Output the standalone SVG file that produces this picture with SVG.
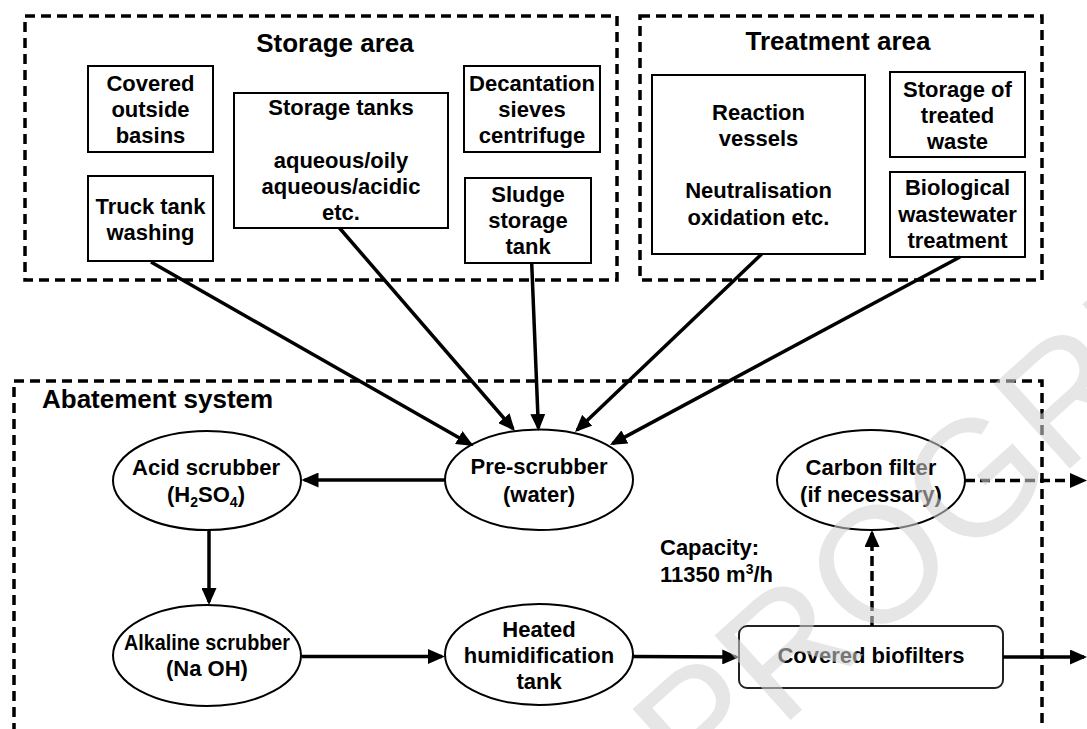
<svg xmlns="http://www.w3.org/2000/svg" width="1087" height="729" viewBox="0 0 1087 729">
  <defs>
    <!-- filled arrowhead; tip sits 3px past the line end -->
    <marker id="arrow" viewBox="0 0 17 15" refX="14" refY="7.5" markerWidth="17" markerHeight="15" markerUnits="userSpaceOnUse" orient="auto">
      <path d="M0,0 L17,7.5 L0,15 z" fill="#000"/>
    </marker>
  </defs>
  <style>
    .t{font-family:"Liberation Sans",Arial,Helvetica,sans-serif;font-weight:bold;font-size:22px;fill:#000;text-anchor:middle}
    .title{font-size:26px}
    .start{text-anchor:start}
    .area{fill:none;stroke:#000;stroke-width:3.5;stroke-dasharray:10 6}
    .box{fill:#fff;stroke:#000;stroke-width:2}
    .oval{fill:#fff;stroke:#000;stroke-width:2}
    .edge{fill:none;stroke:#000;stroke-width:3.5;marker-end:url(#arrow)}
    .dash{stroke-dasharray:10 5}
    .wm{font-family:"Liberation Sans",Arial,Helvetica,sans-serif;font-size:165px;fill:#d3d3d3;opacity:0.56}
  </style>

  <rect width="1087" height="729" fill="#fff"/>

  <!-- area frames -->
  <g id="storage-area">
    <rect class="area" x="25" y="16" width="592" height="264"/>
    <text class="t title" x="335" y="52">Storage area</text>
  </g>
  <g id="treatment-area">
    <rect class="area" x="640" y="16" width="402" height="264"/>
    <text class="t title" x="838" y="50">Treatment area</text>
  </g>
  <g id="abatement-system">
    <rect class="area" x="14" y="381" width="1028" height="380"/>
    <text class="t title start" x="42" y="408">Abatement system</text>
  </g>

  <!-- storage area units -->
  <g id="covered-basins">
    <rect class="box" x="88" y="66" width="125" height="86"/>
    <text class="t" x="150.5" y="91">Covered</text>
    <text class="t" x="150.5" y="117">outside</text>
    <text class="t" x="150.5" y="143">basins</text>
  </g>
  <g id="truck-washing">
    <rect class="box" x="88" y="176" width="125" height="85"/>
    <text class="t" x="150.5" y="214">Truck tank</text>
    <text class="t" x="150.5" y="240">washing</text>
  </g>
  <g id="storage-tanks">
    <rect class="box" x="234" y="93" width="214" height="135"/>
    <text class="t" x="341" y="115">Storage tanks</text>
    <text class="t" x="341" y="168">aqueous/oily</text>
    <text class="t" x="341" y="194">aqueous/acidic</text>
    <text class="t" x="341" y="220">etc.</text>
  </g>
  <g id="decantation">
    <rect class="box" x="464" y="66" width="136" height="86"/>
    <text class="t" x="532" y="91">Decantation</text>
    <text class="t" x="532" y="117">sieves</text>
    <text class="t" x="532" y="143">centrifuge</text>
  </g>
  <g id="sludge-tank">
    <rect class="box" x="465" y="178" width="126" height="85"/>
    <text class="t" x="528" y="202">Sludge</text>
    <text class="t" x="528" y="228">storage</text>
    <text class="t" x="528" y="254">tank</text>
  </g>

  <!-- treatment area units -->
  <g id="reaction-vessels">
    <rect class="box" x="652" y="75" width="213" height="179"/>
    <text class="t" x="758.5" y="120">Reaction</text>
    <text class="t" x="758.5" y="146">vessels</text>
    <text class="t" x="758.5" y="198">Neutralisation</text>
    <text class="t" x="758.5" y="225">oxidation etc.</text>
  </g>
  <g id="treated-storage">
    <rect class="box" x="890" y="72" width="135" height="85"/>
    <text class="t" x="957.5" y="97">Storage of</text>
    <text class="t" x="957.5" y="123">treated</text>
    <text class="t" x="957.5" y="149">waste</text>
  </g>
  <g id="bio-treatment">
    <rect class="box" x="890" y="172" width="135" height="85"/>
    <text class="t" x="957.5" y="195">Biological</text>
    <text class="t" x="957.5" y="222">wastewater</text>
    <text class="t" x="957.5" y="248">treatment</text>
  </g>

  <!-- abatement units -->
  <g id="acid-scrubber">
    <ellipse class="oval" cx="207" cy="480.5" rx="94" ry="49.5"/>
    <text class="t" x="206" y="475">Acid scrubber</text>
    <text class="t" x="206" y="502">(H<tspan font-size="14" dy="5">2</tspan><tspan dy="-5">SO</tspan><tspan font-size="14" dy="5">4</tspan><tspan dy="-5">)</tspan></text>
  </g>
  <g id="pre-scrubber">
    <ellipse class="oval" cx="539" cy="479.7" rx="94" ry="50.3"/>
    <text class="t" x="539" y="474">Pre-scrubber</text>
    <text class="t" x="539" y="502">(water)</text>
  </g>
  <g id="carbon-filter">
    <ellipse class="oval" cx="871" cy="480" rx="94" ry="50"/>
    <text class="t" x="871" y="475">Carbon filter</text>
    <text class="t" x="871" y="501.5">(if necessary)</text>
  </g>
  <g id="alkaline-scrubber">
    <ellipse class="oval" cx="207" cy="655.5" rx="94" ry="50.5"/>
    <text class="t" x="207" y="650" textLength="166" lengthAdjust="spacingAndGlyphs">Alkaline scrubber</text>
    <text class="t" x="207" y="676">(Na OH)</text>
  </g>
  <g id="humidification-tank">
    <ellipse class="oval" cx="539" cy="654.5" rx="94" ry="50.5"/>
    <text class="t" x="539" y="637">Heated</text>
    <text class="t" x="539" y="663">humidification</text>
    <text class="t" x="539" y="689">tank</text>
  </g>
  <g id="biofilters">
    <rect x="739" y="626" width="264" height="62" rx="8" fill="#fff" stroke="#222" stroke-width="2"/>
    <text class="t" x="871" y="663">Covered biofilters</text>
  </g>
  <g id="capacity">
    <text class="t start" x="660" y="555">Capacity:</text>
    <text class="t start" x="660" y="582">11350 m<tspan font-size="14" dy="-8">3</tspan><tspan dy="8">/h</tspan></text>
  </g>

  <!-- connectors -->
  <g id="connectors">
    <line class="edge" x1="151" y1="262" x2="470.9" y2="444.5"/>
    <line class="edge" x1="339.5" y1="228" x2="513" y2="428.7"/>
    <line class="edge" x1="531.7" y1="263" x2="538.4" y2="428"/>
    <line class="edge" x1="761.7" y1="254" x2="577.2" y2="429.9"/>
    <line class="edge" x1="960" y1="257" x2="612.6" y2="443.6"/>
    <line class="edge" x1="445" y1="480" x2="304.5" y2="480"/>
    <line class="edge" x1="209" y1="530" x2="209" y2="602"/>
    <line class="edge" x1="301.7" y1="656.5" x2="442" y2="656.5"/>
    <line class="edge" x1="633" y1="656.5" x2="736.3" y2="657"/>
    <line class="edge" x1="1003" y1="657" x2="1084" y2="657"/>
    <line class="edge dash" x1="872" y1="626" x2="872" y2="533"/>
    <line class="edge dash" x1="965" y1="480.5" x2="1084" y2="480.5"/>
  </g>

  <!-- faint diagonal overprint -->
  <text class="wm" x="698.6" y="802.6" transform="rotate(-42 698.6 802.6)">PROGRESS</text>
</svg>
